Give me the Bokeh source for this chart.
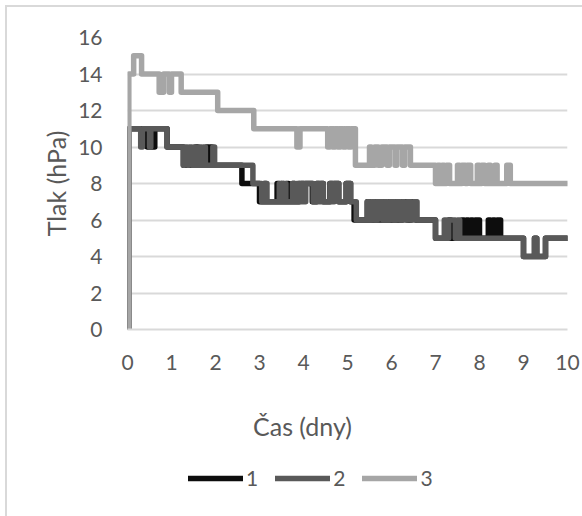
from bokeh.plotting import figure
from bokeh.layouts import column
from bokeh.models import Range1d, FixedTicker, Legend, LegendItem, Label
from bokeh.embed import file_html
from bokeh.resources import INLINE

# Pressure records (hPa) over time (days); each series is stored as the
# moments where the logged value changes and the value held from then on.
t1 = [0, 0.03, 0.45, 0.62, 0.9, 1.27, 1.55, 1.6, 1.8, 1.85, 1.88, 1.92, 2.6, 3.0,
      3.1, 3.15, 3.4, 3.44, 3.5, 3.54, 3.62, 3.66, 3.75, 3.8, 3.9, 4.2, 4.3, 4.45,
      4.6, 4.8, 4.97, 5.07, 5.15, 5.45, 5.5, 5.6, 5.65, 5.8, 5.85, 5.95, 6.0, 6.1,
      6.15, 6.25, 6.35, 6.45, 6.55, 7.0, 7.3, 7.35, 7.6, 7.65, 7.7, 7.75, 7.8,
      7.85, 7.9, 8.0, 8.2, 8.25, 8.3, 8.35, 8.4, 8.48, 9.0, 9.25, 9.3, 9.5, 10]
p1 = [0, 11, 10, 11, 10, 9, 10, 9, 10, 9, 10, 9, 8, 7,
      8, 7, 8, 7, 8, 7, 8, 7, 8, 7, 8, 7, 8, 7,
      8, 7, 8, 7, 6, 7, 6, 7, 6, 7, 6, 7, 6, 7,
      6, 7, 6, 7, 6, 5, 6, 5, 6, 5, 6, 5, 6,
      5, 6, 5, 6, 5, 6, 5, 6, 5, 4, 5, 4, 5, 5]

t2 = [0, 0.03, 0.3, 0.34, 0.5, 0.53, 0.9, 1.27, 1.3, 1.36, 1.4, 1.46, 1.5, 1.53,
      1.63, 1.68, 1.72, 1.77, 1.94, 1.98, 2.85, 3.05, 3.12, 3.17, 3.45, 3.5, 3.55,
      3.6, 3.75, 3.8, 3.85, 3.9, 3.95, 4.0, 4.05, 4.22, 4.3, 4.35, 4.4, 4.45, 4.6,
      4.65, 4.7, 4.8, 4.97, 5.07, 5.2, 5.45, 5.5, 5.55, 5.62, 5.68, 5.8, 5.86, 5.9,
      5.95, 6.05, 6.1, 6.2, 6.25, 6.3, 6.35, 6.45, 6.5, 6.58, 7.0, 7.2, 7.25, 7.3,
      7.45, 7.5, 7.55, 8.5, 9.0, 9.25, 9.3, 9.5, 10]
p2 = [0, 11, 10, 11, 10, 11, 10, 9, 10, 9, 10, 9, 10, 9,
      10, 9, 10, 9, 10, 9, 8, 7, 8, 7, 8, 7, 8,
      7, 8, 7, 8, 7, 8, 7, 8, 7, 8, 7, 8, 7, 8,
      7, 8, 7, 8, 7, 6, 7, 6, 7, 6, 7, 6, 7, 6,
      7, 6, 7, 6, 7, 6, 7, 6, 7, 6, 5, 6, 5, 6,
      5, 6, 5, 5, 4, 5, 4, 5, 5]

t3 = [0, 0.03, 0.14, 0.32, 0.72, 0.82, 0.95, 1.0, 1.22, 2.05, 2.87, 3.85, 3.92,
      4.55, 4.6, 4.66, 4.72, 4.78, 4.84, 4.9, 4.96, 5.02, 5.08, 5.18, 5.5, 5.54,
      5.62, 5.7, 5.78, 5.9, 5.95, 6.08, 6.12, 6.25, 6.3, 6.43, 7.0, 7.05, 7.1,
      7.15, 7.2, 7.25, 7.32, 7.5, 7.55, 7.6, 7.68, 7.72, 7.8, 7.95, 8.0, 8.05,
      8.12, 8.2, 8.25, 8.35, 8.4, 8.62, 8.7, 10]
p3 = [0, 14, 15, 14, 13, 14, 13, 14, 13, 12, 11, 10, 11,
      10, 11, 10, 11, 10, 11, 10, 11, 10, 11, 9, 10, 9,
      10, 9, 10, 9, 10, 9, 10, 9, 10, 9, 8, 9, 8,
      9, 8, 9, 8, 9, 8, 9, 8, 9, 8, 9, 8, 9,
      8, 9, 8, 9, 8, 9, 8, 8]

series_names = ["1", "2", "3"]
series_colors = ["#0d0d0d", "#595959", "#a6a6a6"]
x_ticks = [0, 1, 2, 3, 4, 5, 6, 7, 8, 9, 10]
y_ticks = [0, 2, 4, 6, 8, 10, 12, 14, 16]
x_title = "Čas (dny)"
y_title = "Tlak (hPa)"

FONT = "Lato"
TEXT = "#595959"
GRID = "#d9d9d9"
LINE_W = 5.5
series = [(t1, p1), (t2, p2), (t3, p3)]

# main chart
p = figure(width=575, height=388, output_backend="svg", toolbar_location=None,
           x_range=Range1d(0, 10), y_range=Range1d(0, 16),
           min_border_left=120, min_border_right=15,
           min_border_top=30, min_border_bottom=66)
p.outline_line_color = None
p.background_fill_color = "white"
p.border_fill_color = "white"

p.xgrid.grid_line_color = None
p.ygrid.grid_line_color = GRID
p.ygrid.grid_line_width = 2

p.xaxis.ticker = FixedTicker(ticks=x_ticks)
p.yaxis.ticker = FixedTicker(ticks=y_ticks)
for ax in (p.xaxis, p.yaxis):
    ax.major_tick_line_color = None
    ax.minor_tick_line_color = None
    ax.major_label_text_font = FONT
    ax.major_label_text_font_size = "21px"
    ax.major_label_text_color = TEXT
    ax.major_label_standoff = 19
p.yaxis.axis_line_color = None
p.xaxis.axis_line_color = GRID
p.xaxis.axis_line_width = 2
p.yaxis.axis_label = y_title
p.yaxis.axis_label_text_font = FONT
p.yaxis.axis_label_text_font_size = "25px"
p.yaxis.axis_label_text_color = TEXT
p.yaxis.axis_label_text_font_style = "normal"
p.yaxis.axis_label_standoff = 4

for (tt, vv), color in zip(series, series_colors):
    p.step(x=tt, y=vv, mode="after", line_color=color, line_width=LINE_W,
           line_join="round", line_cap="round")

# strip under the chart: horizontal axis title and the legend
lg = figure(width=575, height=121, output_backend="svg", toolbar_location=None,
            x_axis_type=None, y_axis_type=None,
            x_range=Range1d(0, 10), y_range=Range1d(-2, -1),
            min_border_left=0, min_border_right=0,
            min_border_top=0, min_border_bottom=0)
lg.outline_line_color = None
lg.grid.visible = False
lg.add_layout(Label(x=175, y=91, x_units="screen", y_units="screen", text=x_title,
                    text_font=FONT, text_font_size="25px", text_color=TEXT,
                    text_align="center", text_baseline="middle"))
items = []
for (tt, vv), name, color in zip(series, series_names, series_colors):
    r = lg.step(x=tt, y=vv, mode="after", line_color=color, line_width=LINE_W,
                line_cap="round")
    items.append(LegendItem(label=name, renderers=[r]))
legend = Legend(items=items, orientation="horizontal", location=(61, 26),
                glyph_width=55, glyph_height=20, label_standoff=3,
                label_width=0, spacing=17, padding=0, margin=0,
                border_line_color=None, background_fill_alpha=0,
                label_text_font=FONT, label_text_font_size="21px",
                label_text_color=TEXT)
lg.add_layout(legend, "center")

# the whole chart sits 7px in from the top-left, behind a thin light frame
layout = column(p, lg, spacing=0)
layout.margin = (5, 0, 0, 5)
layout.styles = {"border-left": f"2px solid {GRID}", "border-top": f"2px solid {GRID}"}

open("out.html", "w").write(file_html(layout, INLINE))
